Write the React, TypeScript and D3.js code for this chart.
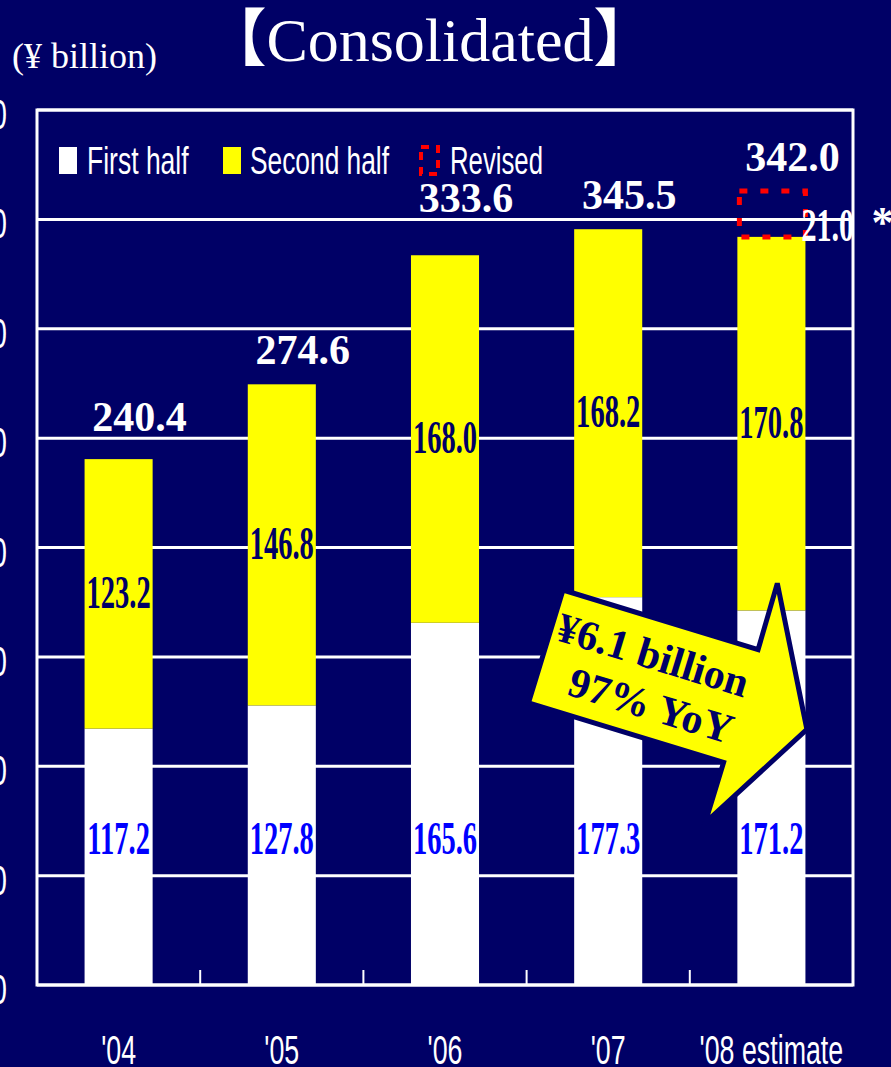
import React from "react";
import * as d3 from "d3";

const years = ["'04", "'05", "'06", "'07", "'08 estimate"];
const firstHalf = [117.2, 127.8, 165.6, 177.3, 171.2];
const secondHalf = [123.2, 146.8, 168.0, 168.2, 170.8];
const totals = ["240.4", "274.6", "333.6", "345.5", "342.0"];
const revised = [0, 0, 0, 0, 21.0];
const yTicks = [0, 50, 100, 150, 200, 250, 300, 350, 400];
const legendItems = ["First half", "Second half", "Revised"];

const W = 891;
const H = 1067;
const BG = "#000066";
const SERIF = "'Liberation Serif','Times New Roman',serif";
const SANS = "'Liberation Sans',Arial,sans-serif";

const plot = { left: 37, right: 853, top: 110, bottom: 985 };

export default function App() {
  const x = d3
    .scaleBand<string>()
    .domain(years)
    .range([plot.left, plot.right])
    .paddingInner(0.583)
    .paddingOuter(0.2915);
  const y = d3.scaleLinear().domain([0, 400]).range([plot.bottom, plot.top]);
  const bw = x.bandwidth();
  const step = x.step();

  const condensed = (
    key: string,
    tx: number,
    ty: number,
    text: string,
    opts: { size: number; family: string; weight?: string; fill: string; anchor?: string; sx: number }
  ) => (
    <g key={key} transform={`translate(${tx},${ty}) scale(${opts.sx},1)`}>
      <text
        x={0}
        y={0}
        fontFamily={opts.family}
        fontSize={opts.size}
        fontWeight={opts.weight || "normal"}
        fill={opts.fill}
        textAnchor={opts.anchor || "middle"}
      >
        {text}
      </text>
    </g>
  );

  // place total label above the bar, keeping it clear of a gridline
  const totalBaseline = (top: number) => {
    let b = top - 20;
    for (const t of yTicks) {
      const g = y(t);
      if (g > b - 32 && g < b + 6) {
        b = g - 7;
        break;
      }
    }
    return b;
  };

  return (
    <svg
      width={W}
      height={H}
      style={{ position: "absolute", left: 0, top: 0, display: "block" }}
    >
      <rect x={0} y={0} width={W} height={H} fill={BG} />

      {/* title */}
      <text
        x={430}
        y={61}
        textAnchor="middle"
        fontFamily={`'Liberation Serif','Times New Roman','Noto Sans CJK JP',serif`}
        fontSize={62}
        fill="#fff"
      >
        <tspan fontWeight="bold" fontFamily="'Noto Sans CJK JP',sans-serif">【</tspan>
        <tspan>Consolidated</tspan>
        <tspan fontWeight="bold" fontFamily="'Noto Sans CJK JP',sans-serif">】</tspan>
      </text>
      <text x={12} y={68} fontFamily={SERIF} fontSize={36} fill="#fff">
        (¥ billion)
      </text>

      {/* gridlines */}
      {yTicks.map((t) => (
        <line
          key={"g" + t}
          x1={plot.left}
          x2={plot.right}
          y1={y(t)}
          y2={y(t)}
          stroke="#fff"
          strokeWidth={3}
        />
      ))}

      {/* y tick labels (cut at left edge) */}
      {yTicks.map((t) =>
        condensed("yl" + t, 7, y(t) + 19, String(t), {
          size: 42,
          family: SANS,
          fill: "#fff",
          anchor: "end",
          sx: 0.67,
        })
      )}

      {/* bars */}
      {years.map((c, i) => (
        <g key={"b" + c}>
          <rect
            x={x(c)}
            y={y(firstHalf[i])}
            width={bw}
            height={y(0) - y(firstHalf[i])}
            fill="#fff"
          />
          <rect
            x={x(c)}
            y={y(firstHalf[i] + secondHalf[i])}
            width={bw}
            height={y(firstHalf[i]) - y(firstHalf[i] + secondHalf[i])}
            fill="#ffff00"
          />
        </g>
      ))}

      {/* plot frame */}
      <rect
        x={plot.left}
        y={plot.top}
        width={plot.right - plot.left}
        height={plot.bottom - plot.top}
        fill="none"
        stroke="#fff"
        strokeWidth={3}
      />

      {/* x ticks between categories */}
      {years.slice(1).map((c, i) => (
        <line
          key={"xt" + c}
          x1={plot.left + step * (i + 1)}
          x2={plot.left + step * (i + 1)}
          y1={plot.bottom - 15}
          y2={plot.bottom}
          stroke="#fff"
          strokeWidth={2}
        />
      ))}

      {/* revised box */}
      {years.map((c, i) => {
        if (!revised[i]) return null;
        const base = firstHalf[i] + secondHalf[i];
        return (
          <g key={"rv" + c}>
            <rect
              x={(x(c) as number) + 2}
              y={y(base + revised[i])}
              width={bw - 2}
              height={y(base) - y(base + revised[i])}
              fill="none"
              stroke="#ff0000"
              strokeWidth={5}
              strokeDasharray="8 13"
            />
            {condensed("rvt" + c, (x(c) as number) + bw - 4, y(base) + 4, revised[i].toFixed(1), {
              size: 47,
              family: SERIF,
              weight: "bold",
              fill: "#fff",
              anchor: "start",
              sx: 0.64,
            })}
            <text
              x={(x(c) as number) + bw + 66}
              y={y(base) + 0}
              fontFamily={SERIF}
              fontWeight="bold"
              fontSize={44}
              fill="#fff"
            >
              *
            </text>
          </g>
        );
      })}

      {/* segment labels */}
      {years.map((c, i) => {
        const cx = (x(c) as number) + bw / 2;
        const mid = (y(firstHalf[i]) + y(firstHalf[i] + secondHalf[i])) / 2;
        return (
          <g key={"sl" + c}>
            {condensed("f" + c, cx, 854, firstHalf[i].toFixed(1), {
              size: 46,
              family: SERIF,
              weight: "bold",
              fill: "#0000ff",
              sx: 0.62,
            })}
            {condensed("s" + c, cx, mid + 14, secondHalf[i].toFixed(1), {
              size: 46,
              family: SERIF,
              weight: "bold",
              fill: BG,
              sx: 0.62,
            })}
          </g>
        );
      })}

      {/* total labels */}
      {years.map((c, i) => {
        const top = y(firstHalf[i] + secondHalf[i] + revised[i]);
        return (
          <text
            key={"t" + c}
            x={(x(c) as number) + bw / 2 + 21}
            y={totalBaseline(top)}
            textAnchor="middle"
            fontFamily={SERIF}
            fontWeight="bold"
            fontSize={42}
            fill="#fff"
          >
            {totals[i]}
          </text>
        );
      })}

      {/* x labels */}
      {years.map((c) =>
        condensed("xl" + c, (x(c) as number) + bw / 2, 1064, c, {
          size: 40,
          family: SANS,
          fill: "#fff",
          sx: 0.67,
        })
      )}

      {/* legend */}
      <rect x={59} y={147} width={18} height={27} fill="#fff" />
      {condensed("lg0", 87, 174, legendItems[0], { size: 39, family: SANS, fill: "#fff", anchor: "start", sx: 0.68 })}
      <rect x={223} y={147} width={18} height={27} fill="#ffff00" />
      {condensed("lg1", 250, 174, legendItems[1], { size: 39, family: SANS, fill: "#fff", anchor: "start", sx: 0.675 })}
      <rect
        x={421}
        y={147}
        width={17}
        height={27}
        fill="none"
        stroke="#ff0000"
        strokeWidth={4}
        strokeDasharray="8 7"
      />
      {condensed("lg2", 450, 174, legendItems[2], { size: 39, family: SANS, fill: "#fff", anchor: "start", sx: 0.66 })}

      {/* arrow annotation */}
      <g transform="translate(563,590) rotate(17)">
        <path
          d="M0,0 L204,0 L203,-69 L274,62 L204,181 L204,118 L0,118 Z"
          fill="#ffff00"
          stroke={BG}
          strokeWidth={5}
          strokeLinejoin="miter"
        />
        <text
          x={105}
          y={50}
          textAnchor="middle"
          fontFamily={SERIF}
          fontWeight="bold"
          fontSize={42}
          fill={BG}
        >
          ¥6.1 billion
        </text>
        <text
          x={118}
          y={99}
          textAnchor="middle"
          fontFamily={SERIF}
          fontWeight="bold"
          fontSize={42}
          fill={BG}
        >
          97% YoY
        </text>
      </g>
    </svg>
  );
}
